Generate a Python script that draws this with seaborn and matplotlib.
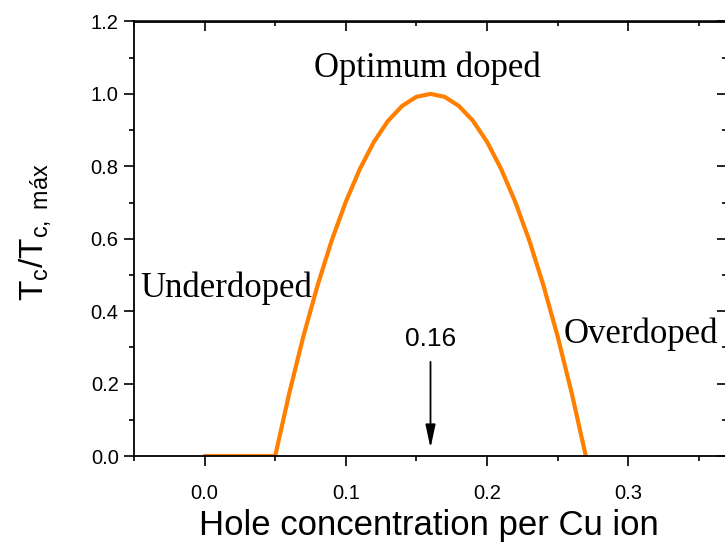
import matplotlib
matplotlib.use("Agg")
import matplotlib.pyplot as plt
from matplotlib.ticker import MultipleLocator
import numpy as np
import pandas as pd
import seaborn as sns

# Normalized critical temperature vs. hole doping (superconducting dome)
hole_conc = [0.00, 0.05, 0.06, 0.07, 0.08, 0.09, 0.10, 0.11, 0.12, 0.13, 0.14,
             0.15, 0.16, 0.17, 0.18, 0.19, 0.20, 0.21, 0.22, 0.23, 0.24, 0.25,
             0.26, 0.27]
tc_ratio = [0.000, 0.000, 0.174, 0.331, 0.471, 0.595, 0.702, 0.793, 0.868, 0.926,
            0.967, 0.992, 1.000, 0.992, 0.967, 0.926, 0.868, 0.793, 0.702, 0.595,
            0.471, 0.331, 0.174, 0.000]

optimum_p = 0.16
x_ticks = [0.0, 0.1, 0.2, 0.3]
y_ticks = [0.0, 0.2, 0.4, 0.6, 0.8, 1.0, 1.2]

sns.set_style("ticks")
plt.rcParams["font.family"] = ["Liberation Sans", "DejaVu Sans"]
plt.rcParams["mathtext.fontset"] = "custom"
plt.rcParams["mathtext.rm"] = "Liberation Sans"
plt.rcParams["mathtext.it"] = "Liberation Sans"
plt.rcParams["axes.linewidth"] = 1.3
plt.rcParams["text.color"] = "black"
plt.rcParams["axes.labelcolor"] = "black"
plt.rcParams["xtick.color"] = "black"
plt.rcParams["ytick.color"] = "black"

df = pd.DataFrame({"p": hole_conc, "tc": tc_ratio})

W, H = 725, 544
fig = plt.figure(figsize=(W / 100, H / 100), dpi=100)
ax = fig.add_axes([134 / W, 1 - 456 / H, 593 / W, 434.5 / H])

sns.lineplot(data=df, x="p", y="tc", ax=ax, color="#FF7F00", linewidth=3.0,
             sort=False, estimator=None)

ax.set_xlim(-0.05, 0.37)
ax.set_ylim(0.0, 1.2)
ax.set_xticks(x_ticks)
ax.set_xticklabels([f"{v:.1f}" for v in x_ticks])
ax.set_yticks(y_ticks)
ax.set_yticklabels([f"{v:.1f}" for v in y_ticks])
ax.xaxis.set_minor_locator(MultipleLocator(0.05))
ax.yaxis.set_minor_locator(MultipleLocator(0.1))
ax.tick_params(which="major", direction="out", length=7, width=1.2,
               labelsize=14.5, colors="black")
ax.tick_params(which="minor", direction="out", length=3.5, width=1.2)
ax.tick_params(axis="x", which="major", pad=13)
ax.tick_params(axis="y", which="major", pad=4)
ax.set_xlabel("")
ax.set_ylabel("")
for s in ax.spines.values():
    s.set_visible(True)
    s.set_color("black")

# Mirrored inward ticks on top and right
top = ax.secondary_xaxis("top")
top.set_xticks(x_ticks)
top.xaxis.set_minor_locator(MultipleLocator(0.05))
top.tick_params(which="major", direction="in", length=7, width=1.2, labeltop=False)
top.tick_params(which="minor", direction="in", length=3.5, width=1.2)
right = ax.secondary_yaxis("right")
right.set_yticks(y_ticks)
right.yaxis.set_minor_locator(MultipleLocator(0.1))
right.tick_params(which="major", direction="in", length=7, width=1.2, labelright=False)
right.tick_params(which="minor", direction="in", length=3.5, width=1.2)

serif = ["Liberation Serif", "DejaVu Serif"]
ax.text(0.1576, 1.048, "Optimum doped", family=serif, fontsize=25,
        ha="center", va="baseline")
ax.text(-0.0453, 0.4386, "Underdoped", family=serif, fontsize=25,
        ha="left", va="baseline")
ax.text(0.2542, 0.312, "Overdoped", family=serif, fontsize=25,
        ha="left", va="baseline")

ax.annotate("", xy=(optimum_p, 0.022), xytext=(optimum_p, 0.26),
            arrowprops=dict(arrowstyle="-|>,head_width=0.15,head_length=0.7",
                            mutation_scale=20, lw=1.3, color="black",
                            shrinkA=0, shrinkB=0))
ax.text(optimum_p, 0.3034, f"{optimum_p:.2f}", fontsize=19,
        ha="center", va="baseline")

fig.text(429 / W, 1 - 535 / H, "Hole concentration per Cu ion", fontsize=25,
         ha="center", va="baseline")
fig.text(35 / W, 1 - 232 / H, r"$\mathregular{T_c/T_{c,\ máx}}$", fontsize=24,
         ha="center", va="center", rotation=90)

fig.savefig("out.png", dpi=100)
